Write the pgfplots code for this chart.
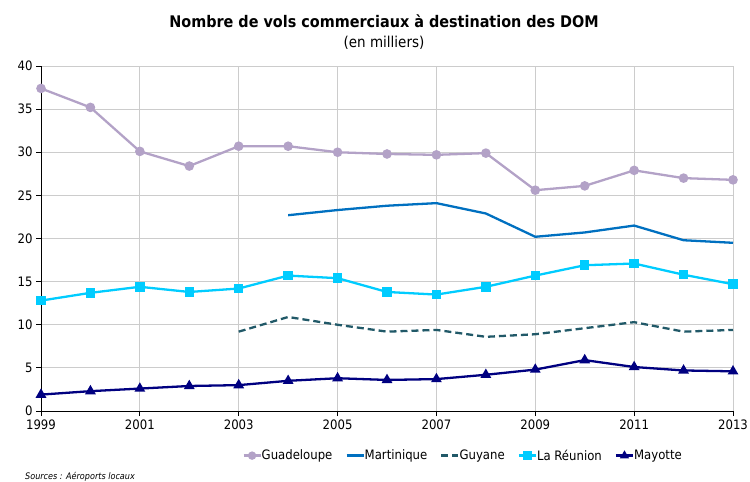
\documentclass[border=0pt]{standalone}
\usepackage{pgfplots}
\pgfplotsset{compat=1.18}
\usepackage{fontspec}
\setmainfont{DejaVu Sans Condensed}
\usetikzlibrary{calc}
\definecolor{cGua}{HTML}{B3A2C7}
\definecolor{cMar}{HTML}{0070C0}
\definecolor{cGuy}{HTML}{215968}
\definecolor{cReu}{HTML}{00CCFF}
\definecolor{cMay}{HTML}{000080}
\definecolor{cGrid}{HTML}{CCCCCC}
\begin{document}
\begin{tikzpicture}
\begin{axis}[
  name=ax,
  scale only axis,
  width=692bp, height=345bp,
  xmin=1999, xmax=2013, ymin=0, ymax=40,
  xtick={1999,2001,...,2013},
  ytick={0,5,...,40},
  x tick label style={/pgf/number format/1000 sep={}},
  /pgf/number format/assume math mode=true,
  tick label style={font=\fontsize{13bp}{15bp}\selectfont},
  axis x line*=bottom, axis y line*=left,
  axis line style={black, line width=1pt},
  grid=major, major grid style={cGrid, line width=1pt},
  tick style={black, line width=0.8pt},
  tick align=outside, major tick length=5bp,
  xtick pos=bottom, ytick pos=left,
  legend style={at={(0.61,-0.1)}, anchor=north, draw=none, fill=none,
    legend columns=5, font=\fontsize{13bp}{15bp}\selectfont,
    /tikz/every even column/.append style={column sep=11bp},
    /tikz/every odd column/.append style={column sep=-2bp}},
  legend cell align=left,
  legend image post style={mark size=3bp},
]
\addplot[cGua, line width=2.3pt, mark=*, mark size=3.6bp] coordinates {
(1999,37.4)(2000,35.2)(2001,30.1)(2002,28.4)(2003,30.7)(2004,30.7)(2005,30.0)(2006,29.8)(2007,29.7)(2008,29.9)(2009,25.6)(2010,26.1)(2011,27.9)(2012,27.0)(2013,26.8)};
\addlegendentry{Guadeloupe}
\addplot[cMar, line width=2.3pt] coordinates {
(2004,22.7)(2005,23.3)(2006,23.8)(2007,24.1)(2008,22.9)(2009,20.2)(2010,20.7)(2011,21.5)(2012,19.8)(2013,19.5)};
\addlegendentry{Martinique}
\addplot[cGuy, line width=2.3pt, dash pattern=on 7bp off 4bp] coordinates {
(2003,9.2)(2004,10.9)(2005,10.0)(2006,9.2)(2007,9.4)(2008,8.6)(2009,8.9)(2010,9.6)(2011,10.3)(2012,9.2)(2013,9.4)};
\addlegendentry{Guyane}
\addplot[cReu, line width=2.3pt, mark=square*, mark size=3.6bp] coordinates {
(1999,12.8)(2000,13.7)(2001,14.4)(2002,13.8)(2003,14.2)(2004,15.7)(2005,15.4)(2006,13.8)(2007,13.5)(2008,14.4)(2009,15.7)(2010,16.9)(2011,17.1)(2012,15.8)(2013,14.7)};
\addlegendentry{La Réunion}
\addplot[cMay, line width=2.3pt, mark=triangle*, mark size=4bp] coordinates {
(1999,1.9)(2000,2.3)(2001,2.6)(2002,2.9)(2003,3.0)(2004,3.5)(2005,3.8)(2006,3.6)(2007,3.7)(2008,4.2)(2009,4.8)(2010,5.9)(2011,5.1)(2012,4.7)(2013,4.6)};
\addlegendentry{Mayotte}
\end{axis}
\node[font=\fontsize{16bp}{18bp}\selectfont\bfseries] at ($(ax.north)+(-3bp,45bp)$) {Nombre de vols commerciaux à destination des DOM};
\node[font=\fontsize{15bp}{17bp}\selectfont] at ($(ax.north)+(-3bp,23bp)$) {(en milliers)};
\node[font=\fontsize{9bp}{10bp}\selectfont\itshape, anchor=west, inner sep=0pt] at ($(ax.south west)+(-16bp,-66bp)$) {Sources : Aéroports locaux};
\pgfresetboundingbox
\path ($(ax.south west)+(-41bp,-71bp)$) rectangle ($(ax.north east)+(17bp,66bp)$);
\end{tikzpicture}
\end{document}
